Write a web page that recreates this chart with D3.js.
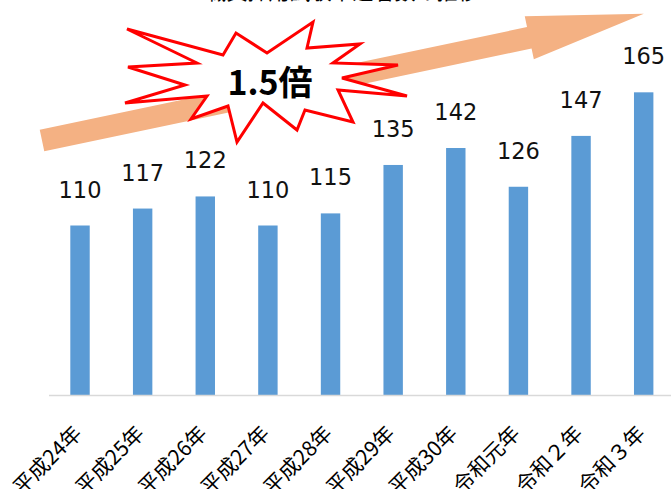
<!DOCTYPE html>
<html>
    <head>
        <meta charset="utf-8">
        <title>推移</title>
        <script src="https://d3js.org/d3.v7.min.js" charset="utf-8"></script>
        <style>
            body { margin: 0; background: #fff; }
        </style>
    </head>
    <body>
        <script>
            // data
            var years = ["平成24年", "平成25年", "平成26年", "平成27年", "平成28年",
                         "平成29年", "平成30年", "令和元年", "令和２年", "令和３年"];
            var counts = [110, 117, 122, 110, 115, 135, 142, 126, 147, 165];
            var yDomain = [40, 180];
            var ratioText = "1.5倍";
            var titleText = "職員採用試験申込者数の推移";

            var width = 671, height = 489;
            var baseY = 395;

            var svg = d3.select("body").append("svg")
                .attr("width", width)
                .attr("height", height);

            var x = d3.scaleBand()
                .domain(years)
                .range([48.7, 675])
                .paddingInner(0.69)
                .paddingOuter(0.345);

            var y = d3.scaleLinear()
                .domain(yDomain)
                .range([baseY, 56]);

            // title, mostly cut off at the top edge
            svg.append("text")
                .attr("x", 342)
                .attr("y", -1.5)
                .attr("text-anchor", "middle")
                .style("font-family", "'Noto Sans CJK JP'")
                .style("font-size", "21px")
                .text(titleText);

            // bars
            svg.selectAll("rect.bar")
                .data(counts)
                .join("rect")
                .attr("class", "bar")
                .attr("x", (d, i) => x(years[i]))
                .attr("width", x.bandwidth())
                .attr("y", d => y(d))
                .attr("height", d => baseY - y(d))
                .attr("fill", "#5B9BD5");

            // value labels
            svg.selectAll("text.val")
                .data(counts)
                .join("text")
                .attr("class", "val")
                .attr("x", (d, i) => x(years[i]) + x.bandwidth() / 2)
                .attr("y", d => y(d) - 28)
                .attr("text-anchor", "middle")
                .style("font-family", "'DejaVu Sans'")
                .style("font-size", "22.5px")
                .attr("fill", "#111")
                .text(d => d);

            // x axis line
            svg.append("line")
                .attr("x1", 49).attr("x2", width)
                .attr("y1", baseY + 0.5).attr("y2", baseY + 0.5)
                .attr("stroke", "#d9d9d9")
                .attr("stroke-width", 1.5);

            // category labels, rotated 45 degrees
            svg.selectAll("text.cat")
                .data(years)
                .join("text")
                .attr("class", "cat")
                .attr("transform", d => `translate(${x(d) + x.bandwidth() / 2 + 3},435) rotate(-45)`)
                .attr("text-anchor", "end")
                .style("font-family", "'Noto Sans CJK JP'")
                .style("font-size", "21px")
                .attr("fill", "#000")
                .text(d => d);

            // big arrow going up to the right
            var arrowLen = 615, shaftHalf = 11, headHalf = 22, headLen = 117;
            var arrowPts = [
                [0, -shaftHalf], [arrowLen - headLen, -shaftHalf], [arrowLen - headLen, -headHalf],
                [arrowLen, 0],
                [arrowLen - headLen, headHalf], [arrowLen - headLen, shaftHalf], [0, shaftHalf]
            ];
            svg.append("polygon")
                .attr("points", arrowPts.map(p => p.join(",")).join(" "))
                .attr("transform", "translate(42,140.5) rotate(-11.9)")
                .attr("fill", "#F4B183");

            // explosion shape
            var burst = [
                [127, 29], [223, 55], [236, 33], [267, 53], [313, 22], [307, 48],
                [360, 44], [333, 63], [398, 65], [342, 78], [407, 96], [338, 90],
                [353, 122], [305, 110], [297, 130], [263, 103], [237, 142], [228, 106],
                [191, 119], [207, 96], [125, 103], [185, 85], [128, 67], [197, 63]
            ];
            svg.append("polygon")
                .attr("points", burst.map(p => p.join(",")).join(" "))
                .attr("fill", "#fff")
                .attr("stroke", "#FF0000")
                .attr("stroke-width", 3)
                .attr("stroke-linejoin", "miter");

            svg.append("text")
                .attr("x", 270)
                .attr("y", 95)
                .attr("text-anchor", "middle")
                .style("font-family", "'Noto Sans CJK JP'")
                .style("font-weight", "bold")
                .style("font-size", "34px")
                .attr("fill", "#000")
                .text(ratioText);
        </script>
    </body>
</html>
